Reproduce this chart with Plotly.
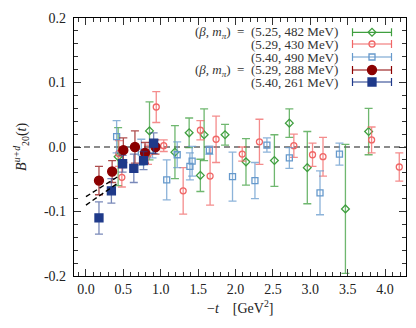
import plotly.graph_objects as go

# ---- data ----
g_x = [0.43, 0.85, 1.19, 1.38, 1.53, 1.58, 1.86, 2.14, 2.52, 2.72, 2.96, 3.47, 3.78]
g_y = [-0.015, 0.025, -0.008, 0.022, -0.044, 0.019, 0.019, -0.023, -0.021, 0.037, -0.032, -0.096, 0.024]
g_e = [0.045, 0.045, 0.041, 0.023, 0.025, 0.04, 0.016, 0.036, 0.04, 0.022, 0.056, 0.10, 0.036]

r_x = [0.44, 0.48, 0.83, 0.94, 1.04, 1.30, 1.53, 1.66, 1.74, 2.09, 2.32, 2.78, 3.03, 3.17, 3.82, 4.19]
r_y = [-0.01, -0.047, -0.012, 0.062, 0.002, -0.068, 0.026, -0.045, 0.012, -0.011, 0.008, 0.002, -0.012, -0.015, 0.011, -0.031]
r_e = [0.02, 0.015, 0.015, 0.024, 0.009, 0.036, 0.015, 0.045, 0.036, 0.011, 0.035, 0.018, 0.018, 0.03, 0.02, 0.022]

b_x = [0.41, 0.74, 0.89, 1.08, 1.22, 1.39, 1.42, 1.65, 1.96, 2.26, 2.42, 2.72, 3.13, 3.39]
b_y = [0.016, -0.008, -0.005, -0.051, -0.012, -0.030, -0.022, -0.005, -0.046, -0.052, 0.003, -0.017, -0.071, -0.011]
b_e = [0.025, 0.02, 0.012, 0.031, 0.02, 0.021, 0.023, 0.0065, 0.038, 0.028, 0.011, 0.016, 0.034, 0.017]

dr_x = [0.174, 0.35, 0.50, 0.655, 0.79, 0.93]
dr_y = [-0.052, -0.038, -0.005, 0.0, -0.009, 0.0]
dr_e = [0.022, 0.017, 0.019, 0.025, 0.016, 0.011]

db_x = [0.174, 0.34, 0.49, 0.64, 0.77, 0.905]
db_y = [-0.110, -0.068, -0.026, -0.033, -0.021, 0.006]
db_e = [0.025, 0.019, 0.013, 0.022, 0.014, 0.016]

fit_x = [0.0, 0.44]
fit_hi = [-0.077, -0.045]
fit_lo = [-0.090, -0.055]

x_ticks = [0.0, 0.5, 1.0, 1.5, 2.0, 2.5, 3.0, 3.5, 4.0]
x_ticktext = ["0.0", "0.5", "1.0", "1.5", "2.0", "2.5", "3.0", "3.5", "4.0"]
y_ticks = [-0.2, -0.1, 0.0, 0.1, 0.2]
y_ticktext = ["-0.2", "-0.1", "0.0", "0.1", "0.2"]

PREFIX = "(<i>β</i>,&nbsp;<i>m</i><sub><i>π</i></sub>)&nbsp;&nbsp;=&nbsp;&nbsp;"
labels = [
    PREFIX + "(5.25, 482 MeV)",
    "(5.29, 430 MeV)",
    "(5.40, 490 MeV)",
    PREFIX + "(5.29, 288 MeV)",
    "(5.40, 261 MeV)",
]

# ---- styles ----
GREEN = "#3f9f3f"
RED = "#f06666"
LBLUE = "#6699cc"
DRED = "#8b0000"
DBLUE = "#1f3a8a"
FONT = "Liberation Serif"

series = [
    (g_x, g_y, g_e, GREEN, "rgba(63,159,63,0.75)", "diamond-open", 6),
    (r_x, r_y, r_e, RED, "rgba(240,102,102,0.75)", "circle-open", 6),
    (b_x, b_y, b_e, LBLUE, "rgba(102,153,204,0.75)", "square-open", 6),
    (dr_x, dr_y, dr_e, DRED, "rgba(139,0,0,0.7)", "circle", 9),
    (db_x, db_y, db_e, DBLUE, "rgba(31,58,138,0.6)", "square", 8),
]

fig = go.Figure()

for xs, ys, es, col, ecol, sym, sz in series:
    fig.add_trace(go.Scatter(
        x=xs, y=ys, mode="markers",
        error_y=dict(type="data", array=es, visible=True, color=ecol, thickness=1.3, width=4),
        marker=dict(symbol=sym, size=sz, color=col, line=dict(color=col, width=1.3)),
        showlegend=False, cliponaxis=True,
    ))

for fy in (fit_hi, fit_lo):
    fig.add_trace(go.Scatter(x=fit_x, y=fy, mode="lines",
                             line=dict(color="black", width=1.4, dash="5px,3px"),
                             showlegend=False))

# legend keys on an overlay axis in screen-pixel units
leg_y = [32.3, 44.0, 57.0, 70.0, 82.0]
for (xs, ys, es, col, ecol, sym, sz), ly in zip(series, leg_y):
    fig.add_trace(go.Scatter(
        x=[372], y=[ly], xaxis="x2", yaxis="y2", mode="markers",
        error_x=dict(type="constant", value=19.5, visible=True, color=col, thickness=1.2, width=4),
        marker=dict(symbol=sym, size=sz, color=col, line=dict(color=col, width=1.3)),
        showlegend=False,
    ))

annotations = []
for txt, ly in zip(labels, leg_y):
    annotations.append(dict(x=340, y=ly, xref="x2", yref="y2", text=txt, showarrow=False,
                            xanchor="right", yanchor="middle",
                            font=dict(family=FONT, size=13, color="#333")))

annotations.append(dict(x=0.5, y=-0.12, xref="paper", yref="paper",
                        text="−<i>t</i>    [GeV<sup>2</sup>]", showarrow=False,
                        xanchor="center", yanchor="middle",
                        font=dict(family=FONT, size=14, color="#222")))
annotations.append(dict(x=-0.16, y=0.5, xref="paper", yref="paper",
                        text="<i>B</i><sup><i>u+d</i></sup><sub>20</sub>(<i>t</i>)", showarrow=False,
                        textangle=-90, xanchor="center", yanchor="middle",
                        font=dict(family=FONT, size=14, color="#222")))

fig.update_layout(
    width=416, height=328,
    margin=dict(l=74, r=10, t=18, b=52),
    paper_bgcolor="white", plot_bgcolor="white",
    font=dict(family=FONT, size=14, color="#222"),
    annotations=annotations,
    shapes=[dict(type="line", xref="paper", yref="y", x0=0, x1=1, y0=0, y1=0,
                 line=dict(color="#666", width=1.3, dash="6px,4px"), layer="below")],
    xaxis=dict(range=[-0.16, 4.28], tickvals=x_ticks, ticktext=x_ticktext,
               ticks="inside", ticklen=7, tickwidth=1, tickcolor="#333",
               minor=dict(dtick=0.1, tick0=0, ticks="inside", ticklen=4, tickcolor="#333"),
               showline=True, linecolor="black", linewidth=1.3, mirror="ticks",
               showgrid=False, zeroline=False, tickfont=dict(size=14)),
    yaxis=dict(range=[-0.2, 0.2], tickvals=y_ticks, ticktext=y_ticktext,
               ticks="inside", ticklen=7, tickwidth=1, tickcolor="#333",
               minor=dict(dtick=0.02, tick0=0, ticks="inside", ticklen=4, tickcolor="#333"),
               showline=True, linecolor="black", linewidth=1.3, mirror="ticks",
               showgrid=False, zeroline=False, tickfont=dict(size=14), ticklabelstandoff=4),
    xaxis2=dict(range=[74, 406], overlaying="x", visible=False, fixedrange=True),
    yaxis2=dict(range=[276, 18], overlaying="y", visible=False, fixedrange=True),
)

# remove the default page margin so the figure sits at the window's top-left corner
fig.write_html("out.html", config={"displayModeBar": False},
               post_script="document.body.style.margin='0';")
